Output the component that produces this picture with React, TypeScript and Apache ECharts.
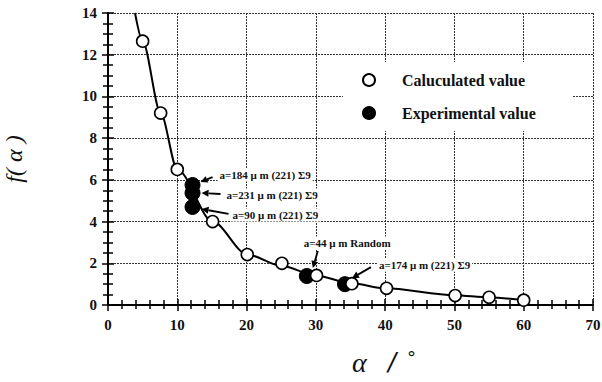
import React, { useEffect, useRef } from "react";
import * as echarts from "echarts";

// Calculated values (open circles)
const xCalc = [5, 7.6, 10, 15.1, 20.1, 25.1, 30.1, 35.2, 40.2, 50.1, 55, 60];
const yCalc = [12.65, 9.2, 6.5, 4.0, 2.42, 2.0, 1.42, 1.02, 0.8, 0.45, 0.37, 0.23];
// Experimental values (filled circles)
const xExp = [12.2, 12.2, 12.2, 28.7, 34.2];
const yExp = [5.75, 5.37, 4.7, 1.39, 1.0];
// Fitted curve
const xCurve = [3.9, 5, 7.6, 10, 15.1, 20.1, 25, 30, 35, 40, 50, 55, 60];
const yCurve = [14.0, 12.65, 9.2, 6.5, 4.0, 2.42, 1.88, 1.42, 1.05, 0.8, 0.47, 0.36, 0.24];
// Annotation labels (one per experimental point)
const annoLabels = [
  "a=184 \u03bc m (221) \u03a39",
  "a=231 \u03bc m (221) \u03a39",
  "a=90 \u03bc m (221) \u03a39",
  "a=44 \u03bc m Random",
  "a=174 \u03bc m (221) \u03a39",
];
const xTicks = [0, 10, 20, 30, 40, 50, 60, 70];
const yTicks = [0, 2, 4, 6, 8, 10, 12, 14];

// pixel offsets of annotation pieces relative to their point: tail, head, text left
const annoLayout = [
  { tail: [20, -8], head: [8, -3], text: [25, -10] },
  { tail: [28, 1], head: [9, 0], text: [32, 2] },
  { tail: [36, 7], head: [9, 2], text: [38, 8] },
  { tail: [11, -25], head: [6, -8], text: [-5, -33] },
  { tail: [26, -17], head: [7, -6], text: [32, -19] },
];

const SERIF = "'Liberation Serif', 'DejaVu Serif', serif";

export default function App() {
  const ref = useRef<HTMLDivElement>(null);
  useEffect(() => {
    if (!ref.current) return;
    const chart = echarts.init(ref.current, null, { renderer: "svg" });
    const calcData = xCalc.map((x, i) => [x, yCalc[i]]);
    const expData = xExp.map((x, i) => [x, yExp[i]]);
    const curveData = xCurve.map((x, i) => [x, yCurve[i]]);

    const commonX = {
      type: "value" as const,
      min: xTicks[0],
      max: xTicks[xTicks.length - 1],
      interval: 10,
    };
    const commonY = {
      type: "value" as const,
      min: yTicks[0],
      max: yTicks[yTicks.length - 1],
      interval: 2,
    };

    chart.setOption({
      animation: false,
      backgroundColor: "#fff",
      grid: { left: 108, right: 9, top: 13, bottom: 77, outerBoundsMode: "none", containLabel: false },
      legend: {
        orient: "vertical",
        left: 343,
        top: 62,
        padding: [10, 37, 10, 19],
        backgroundColor: "#fff",
        itemWidth: 12,
        itemHeight: 12,
        itemGap: 17,
        textStyle: { fontFamily: SERIF, fontSize: 16, fontWeight: "bold", color: "#111", padding: [0, 0, 0, 22] },
        data: ["Caluculated value", "Experimental value"],
      },
      xAxis: [
        {
          ...commonX,
          position: "bottom",
          axisLine: { show: true, lineStyle: { color: "#000", width: 2 } },
          axisTick: { show: true, inside: true, length: 6, lineStyle: { color: "#000", width: 1.5 } },
          minorTick: { show: true, splitNumber: 5, length: 5, lineStyle: { color: "#000", width: 1.5 } },
          axisLabel: { margin: 12, fontFamily: SERIF, fontSize: 15, fontWeight: "bold", color: "#111" },
          splitLine: {
            show: true,
            lineStyle: { type: [2, 1], color: "#333", width: 1 },
          },
        },
        {
          ...commonX,
          position: "top",
          axisLine: { show: true, lineStyle: { color: "#000", width: 1.5 } },
          axisTick: { show: true, inside: true, length: 6, lineStyle: { color: "#000", width: 1.5 } },
          minorTick: { show: true, splitNumber: 5, length: 4, lineStyle: { color: "#000", width: 1.5 } },
          axisLabel: { show: false },
          splitLine: { show: false },
        },
      ],
      yAxis: [
        {
          ...commonY,
          position: "left",
          name: "f( \u03b1 )",
          nameLocation: "middle",
          nameGap: 82,
          nameRotate: 90,
          nameTextStyle: { fontFamily: SERIF, fontSize: 24, fontStyle: "italic", color: "#111" },
          axisLine: { show: true, lineStyle: { color: "#000", width: 2 } },
          axisTick: { show: true, inside: true, length: 6, lineStyle: { color: "#000", width: 1.5 } },
          minorTick: { show: true, splitNumber: 4, length: 5, lineStyle: { color: "#000", width: 1.5 } },
          axisLabel: { margin: 11, fontFamily: SERIF, fontSize: 15, fontWeight: "bold", color: "#111" },
          splitLine: {
            show: true,
            lineStyle: { type: [2, 1], color: "#333", width: 1 },
          },
        },
        {
          ...commonY,
          position: "right",
          axisLine: { show: true, lineStyle: { color: "#000", width: 2 } },
          axisTick: { show: true, inside: true, length: 6, lineStyle: { color: "#000", width: 1.5 } },
          minorTick: { show: true, splitNumber: 4, length: 5, lineStyle: { color: "#000", width: 1.5 } },
          axisLabel: { show: false },
          splitLine: { show: false },
        },
      ],
      series: [
        {
          name: "curve",
          type: "line",
          data: curveData,
          smooth: 0.3,
          smoothMonotone: "x",
          showSymbol: false,
          symbol: "none",
          clip: true,
          lineStyle: { color: "#000", width: 2 },
          z: 2,
          silent: true,
        },
        {
          name: "Experimental value",
          type: "scatter",
          data: expData,
          symbol: "circle",
          symbolSize: 15,
          itemStyle: { color: "#000", borderColor: "#000", borderWidth: 1, opacity: 1 },
          z: 3,
        },
        {
          name: "Caluculated value",
          type: "scatter",
          data: calcData,
          symbol: "circle",
          symbolSize: 12,
          itemStyle: { color: "#fff", borderColor: "#000", borderWidth: 1.6, opacity: 1 },
          z: 4,
        },
      ],
    });

    const graphics: any[] = [];
    expData.forEach((pt, i) => {
      const p = chart.convertToPixel({ xAxisIndex: 0, yAxisIndex: 0 }, pt) as number[];
      const L = annoLayout[i];
      const tx = p[0] + L.tail[0], ty = p[1] + L.tail[1];
      const hx = p[0] + L.head[0], hy = p[1] + L.head[1];
      const dx = hx - tx, dy = hy - ty;
      const len = Math.sqrt(dx * dx + dy * dy) || 1;
      const ux = dx / len, uy = dy / len;
      const hl = 7, hw = 3.5;
      const bx = hx - ux * hl, by = hy - uy * hl;
      graphics.push({
        type: "text",
        z: 10,
        style: {
          x: p[0] + L.text[0],
          y: p[1] + L.text[1],
          text: annoLabels[i],
          fontFamily: SERIF,
          fontSize: 11,
          fontWeight: "bold",
          fill: "#111",
          verticalAlign: "middle",
          align: "left",
          backgroundColor: "#fff",
          padding: [1, 2],
        },
      });
      graphics.push({
        type: "line",
        z: 10,
        shape: { x1: tx, y1: ty, x2: bx, y2: by },
        style: { stroke: "#000", lineWidth: 1.8 },
      });
      graphics.push({
        type: "polygon",
        z: 10,
        shape: {
          points: [
            [hx, hy],
            [bx - uy * hw, by + ux * hw],
            [bx + uy * hw, by - ux * hw],
          ],
        },
        style: { fill: "#000" },
      });
    });
    graphics.push({
      type: "text",
      z: 10,
      style: {
        x: 352,
        y: 362,
        text: "{a|\u03b1}{s|/}{d|\u00b0}",
        verticalAlign: "middle",
        align: "left",
        rich: {
          a: { fontFamily: SERIF, fontSize: 28, fontStyle: "italic", fill: "#111", width: 36 },
          s: { fontFamily: "'DejaVu Sans', sans-serif", fontSize: 24, fontStyle: "italic", fill: "#111", width: 19 },
          d: { fontFamily: "'DejaVu Sans', sans-serif", fontSize: 18, fill: "#111", verticalAlign: "top", padding: [0, 0, 10, 0] },
        },
      },
    });
    chart.setOption({ graphic: graphics });

    return () => chart.dispose();
  }, []);
  return (
    <div
      ref={ref}
      style={{ position: "absolute", left: 0, top: 0, width: 602, height: 382 }}
    />
  );
}
